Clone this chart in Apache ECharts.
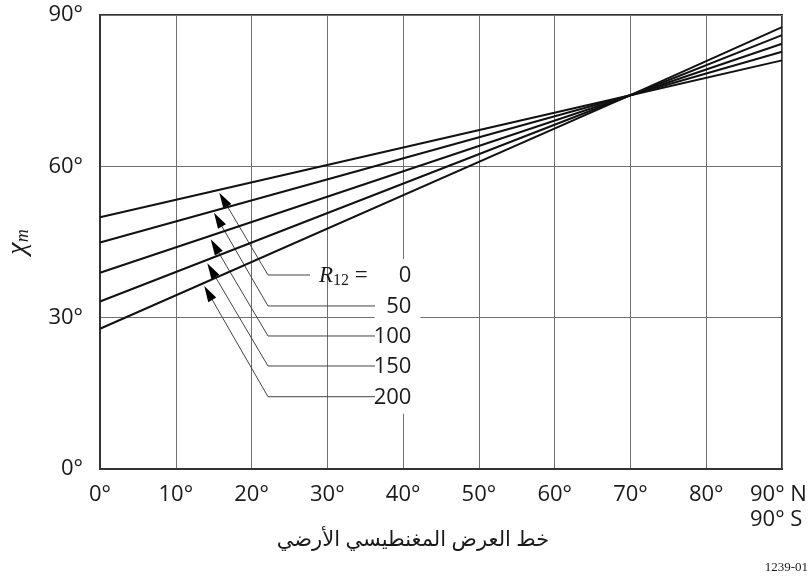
<!DOCTYPE html>
<html>
<head>
<meta charset="utf-8">
<script src="https://cdn.jsdelivr.net/npm/echarts@6/dist/echarts.min.js"></script>
<style>
html,body{margin:0;padding:0;background:#fff;}
#c{width:811px;height:580px;}
</style>
</head>
<body>
<div id="c"></div>
<script>
// Geomagnetic latitude (x) for the curve points
const latitudes = [0, 70, 90];
// chi_m values (degrees) for each R12
const seriesR0   = [49.9, 74.1, 81.0];
const seriesR50  = [44.9, 74.1, 82.7];
const seriesR100 = [38.9, 74.1, 84.3];
const seriesR150 = [33.2, 74.1, 86.0];
const seriesR200 = [27.8, 74.1, 87.6];
const seriesNames = ['0', '50', '100', '150', '200'];
const allSeries = [seriesR0, seriesR50, seriesR100, seriesR150, seriesR200];

// Axis ticks
const xTickStep = 10;
const yTickStep = 30;
const degree = '°';
const xTitle = 'خط العرض المغنطيسي الأرضي';
const xEndLabel = '90° N\n90° S';
const figureCode = '1239-01';

// Leader annotations in data coordinates: tip (on curve), corner, end of horizontal
const annotTipX    = [15.74, 15.04, 14.61, 14.16, 13.76];
const annotTipY    = [54.78, 50.81, 45.54, 40.78, 36.28];
const annotCornerX = [22.17, 22.17, 22.17, 22.17, 22.17];
const annotLevelY  = [38.46, 32.32, 26.37, 20.42, 14.33];
const annotEndX    = [27.71, 36.29, 36.29, 36.29, 36.29];
const annotLabelX  = 41.1;

const chart = echarts.init(document.getElementById('c'));

const lineSeries = allSeries.map((vals, k) => ({
  name: seriesNames[k],
  type: 'line',
  data: latitudes.map((x, i) => [x, vals[i]]),
  showSymbol: false,
  symbol: 'none',
  lineStyle: { color: '#111', width: 2 },
  z: 5,
  silent: true
}));

const annotData = annotTipX.map((_, i) => [annotTipX[i], annotTipY[i], annotCornerX[i], annotLevelY[i], annotEndX[i], annotLabelX]);

const annotSeries = {
  type: 'custom',
  silent: true,
  z: 3,
  data: annotData,
  encode: { x: 0, y: 1 },
  renderItem: function (params, api) {
    const i = params.dataIndex;
    const tip = api.coord([api.value(0), api.value(1)]);
    const corner = api.coord([api.value(2), api.value(3)]);
    const end = api.coord([api.value(4), api.value(3)]);
    const lab = api.coord([api.value(5), api.value(3)]);
    let dx = tip[0] - corner[0], dy = tip[1] - corner[1];
    const len = Math.sqrt(dx * dx + dy * dy);
    dx /= len; dy /= len;
    const L = 16, W = 4.6;
    const bx = tip[0] - L * dx, by = tip[1] - L * dy;
    const nx = -dy, ny = dx;
    const children = [];
    // white box behind number labels
    children.push({
      type: 'rect',
      shape: { x: lab[0] - 37, y: lab[1] - 16, width: 46, height: 33 },
      style: { fill: '#fff' }
    });
    children.push({
      type: 'polyline',
      shape: { points: [end, corner, [bx + 2 * dx, by + 2 * dy]] },
      style: { stroke: '#444', lineWidth: 1, fill: null }
    });
    children.push({
      type: 'polygon',
      shape: { points: [tip, [bx + W * nx, by + W * ny], [bx - W * nx, by - W * ny]] },
      style: { fill: '#000' }
    });
    children.push({
      type: 'text',
      x: lab[0], y: lab[1] + 1,
      style: {
        text: seriesNames[i],
        fill: '#1a1a1a',
        font: '22px "Open Sans"',
        align: 'right', textAlign: 'right',
        verticalAlign: 'middle', textVerticalAlign: 'middle'
      }
    });
    if (i === 0) {
      children.push({
        type: 'text',
        x: end[0] + 9, y: lab[1] + 1,
        style: {
          text: '{r|R}{s|12}{e| =}',
          rich: {
            r: { fontFamily: 'Liberation Serif', fontStyle: 'italic', fontSize: 23, fill: '#1a1a1a', color: '#1a1a1a' },
            s: { fontFamily: 'Liberation Serif', fontSize: 16, fill: '#1a1a1a', color: '#1a1a1a', padding: [9, 0, 0, 0] },
            e: { fontFamily: 'Liberation Serif', fontSize: 23, fill: '#1a1a1a', color: '#1a1a1a' }
          },
          align: 'left', textAlign: 'left',
          verticalAlign: 'middle', textVerticalAlign: 'middle'
        }
      });
    }
    return { type: 'group', children: children };
  }
};

chart.setOption({
  animation: false,
  backgroundColor: '#fff',
  grid: {
    left: 100, right: 29, top: 15, bottom: 111,
    containLabel: false, outerBoundsMode: 'none',
    show: true, borderColor: '#333', borderWidth: 2, backgroundColor: 'transparent'
  },
  xAxis: {
    type: 'value', min: 0, max: 90, interval: xTickStep,
    axisLine: { show: true, lineStyle: { color: '#333', width: 2 } },
    axisTick: { show: false },
    splitLine: { show: true, lineStyle: { color: '#707070', width: 1 } },
    axisLabel: {
      formatter: v => v + degree, showMaxLabel: false,
      fontFamily: 'Open Sans', fontSize: 22, color: '#1a1a1a', margin: 15
    },
    name: xTitle, nameLocation: 'middle', nameGap: 61,
    nameTextStyle: { fontFamily: 'Noto Sans, DejaVu Sans', fontSize: 21, color: '#1a1a1a', padding: [0, 56, 0, 0] }
  },
  yAxis: {
    type: 'value', min: 0, max: 90, interval: yTickStep,
    axisLine: { show: true, lineStyle: { color: '#333', width: 2 } },
    axisTick: { show: false },
    splitLine: { show: true, lineStyle: { color: '#707070', width: 1 } },
    axisLabel: {
      formatter: v => v + degree,
      fontFamily: 'Open Sans', fontSize: 22, color: '#1a1a1a', margin: 17
    },
    name: '{a|χ}{b|m}', nameLocation: 'middle', nameGap: 68, nameRotate: 90,
    nameTextStyle: {
      rich: {
        a: { fontFamily: 'Liberation Serif', fontStyle: 'italic', fontSize: 28, color: '#1a1a1a' },
        b: { fontFamily: 'Liberation Serif', fontStyle: 'italic', fontSize: 18, color: '#1a1a1a', padding: [10, 0, 0, 0] }
      }
    }
  },
  graphic: [
    {
      type: 'text', left: 750, top: 482,
      style: { text: xEndLabel, font: '22px "Open Sans"', fill: '#1a1a1a', lineHeight: 25 }
    },
    {
      type: 'text', right: 3, top: 561,
      style: { text: figureCode, font: '13px "Liberation Serif"', fill: '#1a1a1a' }
    }
  ],
  series: lineSeries.concat([annotSeries])
});
</script>
</body>
</html>
